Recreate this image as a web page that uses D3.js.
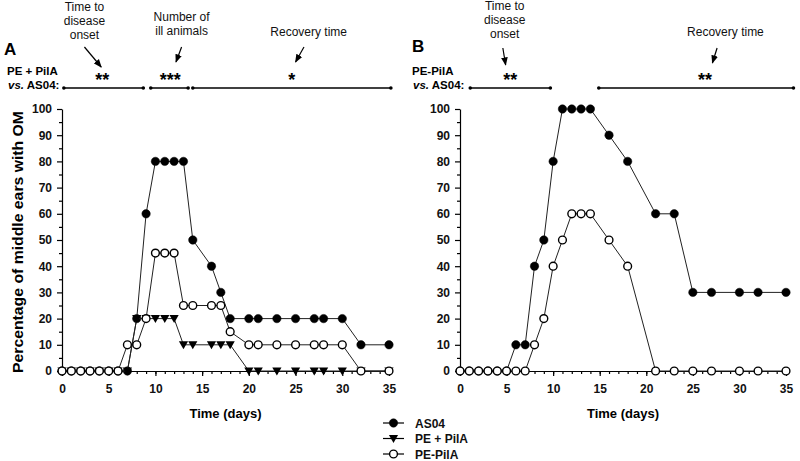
<!DOCTYPE html>
<html><head><meta charset="utf-8">
<script src="https://cdn.jsdelivr.net/npm/d3@7/dist/d3.min.js"></script>
<style>body{margin:0;background:#fff}svg{display:block;font-family:Arial,"Liberation Sans",sans-serif}</style>
</head><body><svg id="c" width="800" height="461"></svg>
<script>
// ---- data ----
const daysA = [0,1,2,3,4,5,6,7,8,9,10,11,12,13,14,16,17,18,20,21,23,25,27,28,30,32,35];
const a_AS04   = [0,0,0,0,0,0,0,0,20,60,80,80,80,80,50,40,30,20,20,20,20,20,20,20,20,10,10];
const a_PEPilA_plus = [0,0,0,0,0,0,0,0,20,20,20,20,20,10,10,10,10,10,0,0,0,0,0,0,0,0,0];
const a_PEPilA = [0,0,0,0,0,0,0,10,10,20,45,45,45,25,25,25,25,15,10,10,10,10,10,10,10,0,0];

const daysB = [0,1,2,3,4,5,6,7,8,9,10,11,12,13,14,16,18,21,23,25,27,30,32,35];
const b_AS04   = [0,0,0,0,0,0,10,10,40,50,80,100,100,100,100,90,80,60,60,30,30,30,30,30];
const b_PEPilA = [0,0,0,0,0,0,0,0,10,20,40,50,60,60,60,50,40,0,0,0,0,0,0,0];

const xTicks = [0,5,10,15,20,25,30,35];
const yTicks = [0,10,20,30,40,50,60,70,80,90,100];
const legendLabels = ["AS04","PE + PilA","PE-PilA"];

// annotations (in days)
const bracketsA = [[0.2,8.7],[9.5,13.5],[14,35.2]];
const starsA = [{d:4.3,t:"**"},{d:11.6,t:"***"},{d:24.6,t:"*"}];
const labelsA = [{d:2.4,lines:["Time to","disease","onset"],y0:11},{d:12.8,lines:["Number of","ill animals"],y0:21},{d:26.4,lines:["Recovery time"],y0:36}];
const arrowsA = [[2.4,47,4.2,67],[12.8,47,12.2,62],[25.9,47,25,62]];
const bracketsB = [[1.1,9.7],[14.9,35.8]];
const starsB = [{d:5.4,t:"**"},{d:26.3,t:"**"}];
const labelsB = [{d:4.8,lines:["Time to","disease","onset"],y0:10},{d:28.5,lines:["Recovery time"],y0:36}];
const arrowsB = [[4.6,48,4.9,65],[27.6,48,27.1,63]];

// ---- drawing ----
const svg = d3.select("#c");
const defs = svg.append("defs");
defs.append("marker").attr("id","ah").attr("viewBox","0 0 10 10").attr("refX",9).attr("refY",5)
  .attr("markerWidth",7).attr("markerHeight",7).attr("orient","auto-start-reverse")
  .append("path").attr("d","M0,1 L10,5 L0,9 z").attr("fill","#000");

const yS = d3.scaleLinear().domain([0,100]).range([371,109]);
const triPath = "M-4.6,-3.6 L4.6,-3.6 L0,4.4 Z";

function panel(x0, x1, days, series, ann) {
  const xS = d3.scaleLinear().domain([0,35]).range([x0, x1]);
  const g = svg.append("g");
  g.append("g").attr("transform","translate(0,371)")
    .call(d3.axisBottom(xS).tickValues(d3.range(0,36,1)).tickSize(3).tickSizeOuter(0).tickFormat(""))
    .call(s=>s.select(".domain").remove());
  g.append("g").attr("transform",`translate(${x0},0)`)
    .call(d3.axisLeft(yS).tickValues(d3.range(5,100,10)).tickSize(3).tickFormat(""))
    .call(s=>s.select(".domain").remove());
  const xa = g.append("g").attr("transform","translate(0,371)")
    .call(d3.axisBottom(xS).tickValues(xTicks).tickSize(5).tickSizeOuter(0).tickPadding(8));
  const ya = g.append("g").attr("transform",`translate(${x0},0)`)
    .call(d3.axisLeft(yS).tickValues(yTicks).tickSize(5).tickSizeOuter(0).tickPadding(5));
  [xa,ya].forEach(a=>{a.selectAll("text").attr("font-size",12).attr("font-weight","bold").attr("fill","#111").style("font-family","Arial, Liberation Sans, sans-serif");
    a.selectAll("line,path").attr("stroke","#000").attr("stroke-width",1.2);});
  g.selectAll(".tick line").attr("stroke","#000").attr("stroke-width",1.2);

  const line = d3.line().x((d,i)=>xS(days[i])).y(d=>yS(d));
  series.forEach(s=>{
    g.append("path").attr("d",line(s.v)).attr("fill","none").attr("stroke","#222").attr("stroke-width",1);
    s.v.forEach((v,i)=>{
      const cx = xS(days[i]), cy = yS(v);
      if (s.type==="tri") g.append("path").attr("d",triPath).attr("transform",`translate(${cx},${cy})`).attr("fill","#000");
      else g.append("circle").attr("cx",cx).attr("cy",cy).attr("r",s.type==="open"?3.9:4.2)
        .attr("fill",s.type==="open"?"#fff":"#000").attr("stroke","#000").attr("stroke-width",s.type==="open"?1.4:0.5);
    });
  });

  g.append("text").attr("x",(x0+x1)/2).attr("y",418).attr("text-anchor","middle")
    .attr("font-size",13).attr("font-weight","bold").text("Time (days)");

  ann.brackets.forEach(b=>{
    g.append("line").attr("x1",xS(b[0])).attr("x2",xS(b[1])).attr("y1",88).attr("y2",88).attr("stroke","#000").attr("stroke-width",1.4);
    b.forEach(d=>g.append("circle").attr("cx",xS(d)).attr("cy",88).attr("r",1.8).attr("fill","#000"));
  });
  ann.stars.forEach(s=>g.append("text").attr("x",xS(s.d)).attr("y",86).attr("text-anchor","middle")
    .attr("font-size",18).attr("font-weight","bold").text(s.t));
  ann.labels.forEach(l=>l.lines.forEach((t,i)=>g.append("text").attr("x",xS(l.d)).attr("y",l.y0+i*14)
    .attr("text-anchor","middle").attr("font-size",12).attr("fill","#111").text(t)));
  ann.arrows.forEach(a=>g.append("line").attr("x1",xS(a[0])).attr("y1",a[1]).attr("x2",xS(a[2])).attr("y2",a[3])
    .attr("stroke","#000").attr("stroke-width",1.2).attr("marker-end","url(#ah)"));
  return xS;
}

panel(62, 389, daysA, [
  {v:a_AS04,type:"filled"},{v:a_PEPilA_plus,type:"tri"},{v:a_PEPilA,type:"open"}],
  {brackets:bracketsA,stars:starsA,labels:labelsA,arrows:arrowsA});
panel(460, 786, daysB, [
  {v:b_AS04,type:"filled"},{v:b_PEPilA,type:"open"}],
  {brackets:bracketsB,stars:starsB,labels:labelsB,arrows:arrowsB});

svg.append("text").attr("x",4).attr("y",55).attr("font-size",17).attr("font-weight","bold").text("A");
svg.append("text").attr("x",412).attr("y",52).attr("font-size",17).attr("font-weight","bold").text("B");
function cmp(x, first){
  svg.append("text").attr("x",x).attr("y",75).attr("font-size",11.5).attr("font-weight","bold").text(first);
  const t = svg.append("text").attr("x",x+1).attr("y",89).attr("font-size",11.5).attr("font-weight","bold");
  t.append("tspan").attr("font-style","italic").text("vs.");
  t.append("tspan").text(" AS04:");
}
cmp(7,"PE + PilA");
cmp(412,"PE-PilA");

svg.append("text").attr("transform","translate(23,242) rotate(-90)").attr("text-anchor","middle")
  .attr("font-size",14).attr("font-weight","bold").attr("textLength",262).attr("lengthAdjust","spacingAndGlyphs")
  .text("Percentage of middle ears with OM");

const lg = svg.append("g");
legendLabels.forEach((lab,i)=>{
  const y = 423 + i*15.5;
  lg.append("line").attr("x1",383).attr("x2",404).attr("y1",y).attr("y2",y).attr("stroke","#000").attr("stroke-width",1.2);
  if (i===1) lg.append("path").attr("d",triPath).attr("transform",`translate(393.5,${y})`).attr("fill","#000");
  else lg.append("circle").attr("cx",393.5).attr("cy",y).attr("r",i===0?4.2:3.9).attr("fill",i===0?"#000":"#fff").attr("stroke","#000").attr("stroke-width",i===0?0.5:1.4);
  lg.append("text").attr("x",415).attr("y",y+4.5).attr("font-size",12).attr("font-weight","bold").attr("fill","#111").text(lab);
});
</script></body></html>
